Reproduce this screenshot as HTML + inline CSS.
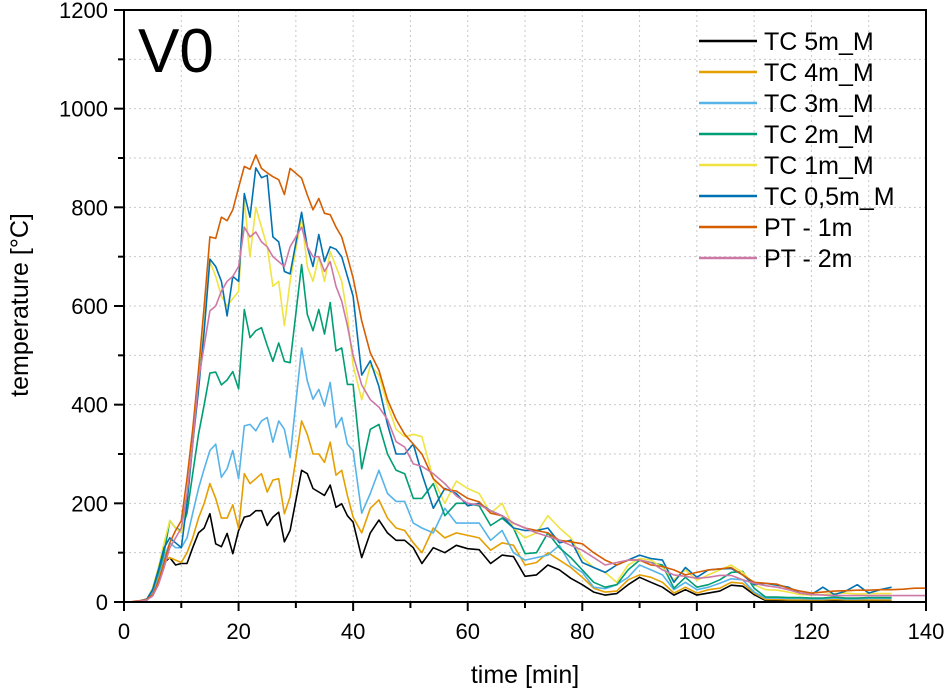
<!DOCTYPE html>
<html><head><meta charset="utf-8">
<style>
html,body{margin:0;padding:0;background:#fff;}
svg{display:block;font-family:"Liberation Sans",Arial,sans-serif;}
</style></head>
<body>
<svg id="chart" width="946" height="688" viewBox="0 0 946 688" xmlns="http://www.w3.org/2000/svg">
<g id="grid"></g>
<g id="series"></g>
<g id="axes"></g>
<text x="138" y="72" font-size="62">V0</text>
<text x="525" y="683" font-size="25" text-anchor="middle">time [min]</text>
<text transform="translate(28,305) rotate(-90)" font-size="25" text-anchor="middle">temperature [°C]</text>
<g id="legend"></g>
</svg>
<script>
const T = [0,1,2,3,4,5,6,7,8,9,10,11,12,13,14,15,16,17,18,19,20,21,22,23,24,25,26,27,28,29,
31,32,33,34,35,36,37,38,39,40,
41.5,43,44.5,46,47.5,49,50.5,
52,54,56,58,60,62,64,66,68,70,72,74,76,78,80,82,84,86,88,90,92,94,96,98,100,102,104,106,108,110,112,114,116,118,120,122,124,126,128,130,132,134,136,138,140];
const seriesNames = ["TC 5m_M","TC 4m_M","TC 3m_M","TC 2m_M","TC 1m_M","TC 0,5m_M","PT - 1m","PT - 2m"];
const seriesColors = ["#000000","#E69F00","#56B4E9","#009E73","#F0E442","#0072B2","#D55E00","#CC79A7"];
const tc5 = [0,0,1,2,4,15,45,80, 90,75,78,78,110,140,150,
179,118,112,139,98,145,172,175,185,185,155,172,182,122,145,
267,260,230,223,216,237,192,199,175,162,
90,140,166,140,125,125,110,
78,110,100,115,108,106,78,95,92,52,55,75,65,48,35,20,14,17,35,50,40,30,14,25,14,18,22,34,32,15,3,3,3,2,2,2,3,2,2,2,2,2,null,null,null];
const tc4 = [0,0,1,2,5,18,50,85, 90,85,80,100,130,170,200,
240,210,170,170,197,149,260,240,250,260,223,247,250,179,213,
367,340,300,300,283,324,257,267,216,172,
140,190,207,170,150,145,120,
100,150,130,140,135,130,105,120,115,75,80,100,85,70,50,28,20,22,45,55,50,40,18,30,18,25,28,40,38,18,5,5,4,4,4,4,5,4,4,4,4,4,null,null,null];
const tc3 = [0,0,1,2,5,20,55,90, 120,110,110,130,180,230,270,
307,320,253,270,307,250,357,360,347,367,374,324,367,350,293,
515,448,411,431,397,445,354,374,320,307,
180,220,267,220,204,204,160,
150,140,190,160,160,160,125,145,100,85,90,95,115,75,60,30,27,35,50,75,65,55,25,40,25,30,38,47,45,20,8,8,7,7,6,6,8,6,6,7,7,7,null,null,null];
const tc2 = [0,0,1,3,6,25,60,100, 165,150,145,180,260,340,400,
464,466,440,450,467,432,593,536,550,556,520,488,525,488,485,
684,583,550,593,543,607,509,515,441,441,
270,350,360,300,267,260,210,
210,240,175,200,200,195,155,170,150,98,100,140,110,90,65,40,30,35,65,85,80,75,28,50,30,35,45,60,62,28,10,10,9,9,8,8,10,8,8,9,9,9,null,null,null];
const tc1 = [0,0,1,3,6,28,70,120, 165,150,140,200,320,450,560,
690,660,620,600,615,630,815,700,800,760,720,640,650,560,650,
780,680,650,700,650,710,680,650,580,480,
410,480,460,400,350,335,340,
335,250,200,245,230,220,180,200,150,130,140,175,150,130,90,70,60,40,75,88,85,70,45,65,44,55,65,75,60,35,25,24,20,15,14,15,17,18,16,17,17,17,null,null,null];
const tc05 = [0,0,1,3,6,25,65,110, 130,120,110,200,320,430,550,
695,680,650,580,660,650,828,780,880,860,865,740,730,670,665,
790,720,680,745,690,720,715,700,660,620,
460,489,437,360,300,300,320,
260,190,230,220,195,200,185,175,150,145,145,150,120,125,80,70,60,75,85,95,88,85,40,70,50,65,67,68,55,35,38,34,30,18,15,30,15,22,35,18,25,30,null,null,null];
const pt1 = [0,0,2,3,5,15,40,80, 120,145,165,250,350,470,600,
740,737,780,773,795,840,883,877,906,879,870,862,856,826,879,
859,825,795,818,788,785,760,740,700,657,
570,505,470,410,370,340,320,
300,250,228,225,210,203,180,175,160,150,145,140,125,122,118,100,85,75,85,85,75,72,65,55,60,65,67,70,55,40,38,36,28,22,18,20,22,23,24,24,25,25,26,28,28];
const pt2 = [0,0,1,2,4,12,35,70, 110,130,150,220,320,450,520,
590,600,630,650,660,680,760,740,750,730,720,700,690,680,720,
760,720,700,700,670,690,640,610,560,500,
440,410,395,370,325,314,280,
275,260,240,215,200,197,185,175,160,150,140,133,125,115,105,90,75,80,85,85,80,65,55,52,48,50,54,54,45,38,33,30,25,18,15,14,13,13,13,13,13,13,13,13,13];
const seriesData = [tc5,tc4,tc3,tc2,tc1,tc05,pt1,pt2];
const xTicks = [0,20,40,60,80,100,120,140];
const yTicks = [0,200,400,600,800,1000,1200];

const X0=124, X1=926, Y0=602, Y1=10, XMAX=140, YMAX=1200;
const sx = t => X0 + (X1-X0)*t/XMAX;
const sy = v => Y0 - (Y0-Y1)*v/YMAX;
const NS="http://www.w3.org/2000/svg";
function mk(tag, attrs, parent){const e=document.createElementNS(NS,tag);for(const k in attrs)e.setAttribute(k,attrs[k]);parent.appendChild(e);return e;}

const grid=document.getElementById('grid');
for(let t=10;t<XMAX;t+=10){
  const l=mk('line',{x1:sx(t),x2:sx(t),y1:Y1,y2:Y0,stroke:'#c8c8c8','stroke-width':1,'stroke-dasharray':'2,3'},grid);
  
  
}
for(let v=100;v<YMAX;v+=100){
  const l=mk('line',{x1:X0,x2:X1,y1:sy(v),y2:sy(v),stroke:'#c8c8c8','stroke-width':1,'stroke-dasharray':'2,3'},grid);
  
  
}

const sg=document.getElementById('series');
seriesData.forEach((arr,i)=>{
  let d='';let pen=false;
  arr.forEach((v,j)=>{
    if(v===null||v===undefined){pen=false;return;}
    d+=(pen?'L':'M')+sx(T[j]).toFixed(1)+','+sy(v).toFixed(1);pen=true;
  });
  const p=mk('path',{d:d,fill:'none',stroke:seriesColors[i],'stroke-width':1.6,'stroke-linejoin':'round'},sg);
  
  
});

const ax=document.getElementById('axes');
const frame=mk('rect',{x:X0,y:Y1,width:X1-X0,height:Y0-Y1,fill:'none',stroke:'#000','stroke-width':2},ax);


for(let t=0;t<=XMAX;t+=10){
  const major=t%20===0;
  const tk=mk('line',{x1:sx(t),x2:sx(t),y1:Y0,y2:Y0+(major?9:6),stroke:'#000','stroke-width':2},ax);
  
  
}
xTicks.forEach(t=>{
  const tx=mk('text',{x:sx(t),y:639,'font-size':22,'text-anchor':'middle'},ax);
  tx.textContent=t;
  
  
});
for(let v=0;v<=YMAX;v+=100){
  const major=v%200===0;
  const tk=mk('line',{x1:X0-(major?10:6),x2:X0,y1:sy(v),y2:sy(v),stroke:'#000','stroke-width':2},ax);
  
  
}
yTicks.forEach(v=>{
  const tx=mk('text',{x:X0-16,y:sy(v)+8,'font-size':22,'text-anchor':'end'},ax);
  tx.textContent=v;
  
  
});

const lg=document.getElementById('legend');
seriesNames.forEach((n,i)=>{
  const y=41+i*31;
  const g=mk('g',{},lg);
  
  
  mk('line',{x1:699,x2:757,y1:y,y2:y,stroke:seriesColors[i],'stroke-width':2.5},g);
  const tx=mk('text',{x:764,y:y+9,'font-size':25},g);
  tx.textContent=n;
});
</script>
</body></html>
